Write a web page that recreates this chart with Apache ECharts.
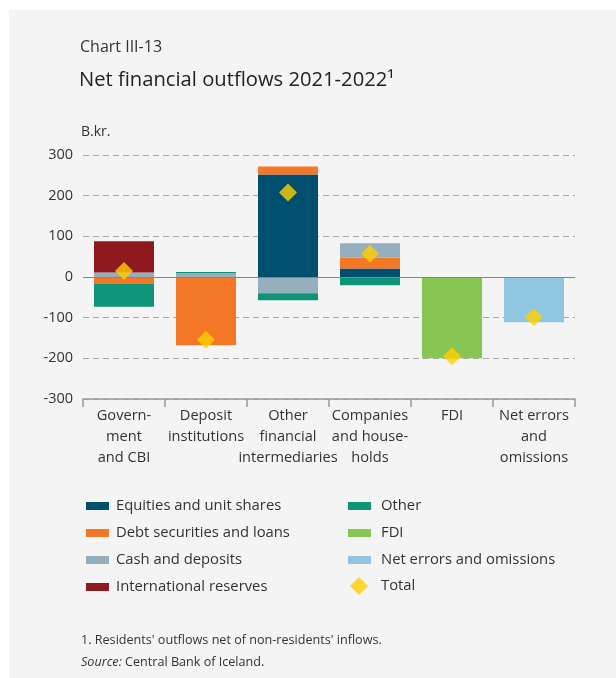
<!DOCTYPE html>
<html>
<head>
<meta charset="utf-8">
<script src="https://cdn.jsdelivr.net/npm/echarts@6/dist/echarts.min.js"></script>
<style>
  html, body { margin: 0; padding: 0; background: #ffffff; }
  #panel { position: absolute; left: 9px; top: 10px; width: 607px; height: 668px; background: #f4f4f4; }
  #chart { position: absolute; left: 0; top: 0; width: 616px; height: 678px; }
</style>
</head>
<body>
<div id="panel"></div>
<div id="chart"></div>
<script>
const categories = ["Govern-\nment\nand CBI", "Deposit\ninstitutions", "Other\nfinancial\nintermediaries", "Companies\nand house-\nholds", "FDI", "Net errors\nand\nomissions"];
const equities = [null, null, 252, 21, null, null];
const debtSecurities = [-16, -168, 20, 27, null, null];
const cashDeposits = [11, 9, -40, 35, null, null];
const intlReserves = [77, null, null, null, null, null];
const otherFlows = [-57, 3, -17, -20, null, null];
const fdi = [null, null, null, null, -200, null];
const netErrors = [null, null, null, null, null, -111];
const total = [15, -154, 208, 57, -195, -99];
const yTicks = [-300, 300, 100];

const FONT = '"Open Sans", "Noto Sans", sans-serif';
const TXT = '#333333';

const chart = echarts.init(document.getElementById('chart'), null, { renderer: 'canvas' });

function barSeries(name, data, color) {
  return {
    name: name, type: 'bar', stack: 'all', data: data, barWidth: 60,
    itemStyle: { color: color }, silent: true
  };
}

const series = [
  barSeries('Equities and unit shares', equities, '#004f6e'),
  barSeries('Debt securities and loans', debtSecurities, '#f47726'),
  barSeries('Cash and deposits', cashDeposits, '#95afbd'),
  barSeries('International reserves', intlReserves, '#8e1a20'),
  barSeries('Other', otherFlows, '#0e9577'),
  barSeries('FDI', fdi, '#88c553'),
  barSeries('Net errors and omissions', netErrors, '#90c6e0'),
  {
    name: 'Total', type: 'scatter', data: total, symbol: 'diamond', symbolSize: 18,
    itemStyle: { color: '#ffd000' }, z: 10, silent: true
  }
];
series[0].markLine = {
  silent: true, symbol: 'none', label: { show: false },
  lineStyle: { color: '#858585', type: 'solid', width: 1.2 },
  data: [{ yAxis: 0 }]
};

const legendText = { fontFamily: FONT, fontSize: 14.8, color: TXT, lineHeight: 18 };

chart.setOption({
  animation: false,
  backgroundColor: 'transparent',
  textStyle: { fontFamily: FONT },
  title: [
    { text: 'Chart III-13', left: 75, top: 34, textStyle: { fontFamily: FONT, fontSize: 16, fontWeight: 'normal', color: TXT } },
    { text: 'Net financial outflows 2021-2022¹', left: 74, top: 65, textStyle: { fontFamily: FONT, fontSize: 20.2, fontWeight: 'normal', color: '#222' } }
  ],
  grid: { left: 83, right: 41, top: 155, bottom: 279, containLabel: false },
  xAxis: {
    type: 'category', data: categories, position: 'bottom',
    axisLine: { onZero: false, lineStyle: { color: '#9a9a9a', width: 1.5 } },
    axisTick: { show: true, length: 8, inside: false, alignWithLabel: false, lineStyle: { color: '#9a9a9a', width: 1.5 } },
    axisLabel: { interval: 0, margin: 6, fontFamily: FONT, fontSize: 14.6, lineHeight: 21, color: TXT, align: 'center' },
    splitLine: { show: false }
  },
  yAxis: {
    type: 'value', min: yTicks[0], max: yTicks[1], interval: yTicks[2],
    name: 'B.kr.', nameLocation: 'end', nameGap: 16,
    nameTextStyle: { fontFamily: FONT, fontSize: 14, color: TXT, align: 'left', padding: [0, 0, 0, -2] },
    axisLine: { show: false }, axisTick: { show: false },
    axisLabel: { fontFamily: FONT, fontSize: 14.5, color: TXT, margin: 10 },
    splitLine: { show: true, lineStyle: { color: '#a8a8a8', type: [6, 4], width: 1 } }
  },
  legend: [
    {
      data: ['Equities and unit shares', 'Debt securities and loans', 'Cash and deposits', 'International reserves'],
      orient: 'vertical', left: 81, top: 492, itemWidth: 23, itemHeight: 8, itemGap: 9,
      selectedMode: false, textStyle: Object.assign({ padding: [0, 0, 0, 2] }, legendText), icon: 'rect'
    },
    {
      data: ['Other', 'FDI', 'Net errors and omissions'],
      orient: 'vertical', left: 343, top: 492, itemWidth: 23, itemHeight: 8, itemGap: 9,
      selectedMode: false, textStyle: Object.assign({ padding: [0, 0, 0, 5] }, legendText), icon: 'rect'
    },
    {
      data: ['Total'],
      orient: 'vertical', left: 345, top: 572, itemWidth: 18, itemHeight: 18, itemGap: 9,
      selectedMode: false, textStyle: Object.assign({ padding: [0, 0, 0, 8] }, legendText), icon: 'diamond'
    }
  ],
  graphic: [
    {
      type: 'text', left: 81, top: 634,
      style: { text: "1. Residents' outflows net of non-residents' inflows.", font: '12.6px ' + FONT, fill: TXT }
    },
    {
      type: 'text', left: 81, top: 656,
      style: {
        text: '{i|Source:} Central Bank of Iceland.',
        font: '12.6px ' + FONT, fill: TXT,
        rich: { i: { fontStyle: 'italic', fontFamily: FONT, fontSize: 12.6, fill: TXT } }
      }
    }
  ],
  series: series
});
</script>
</body>
</html>
